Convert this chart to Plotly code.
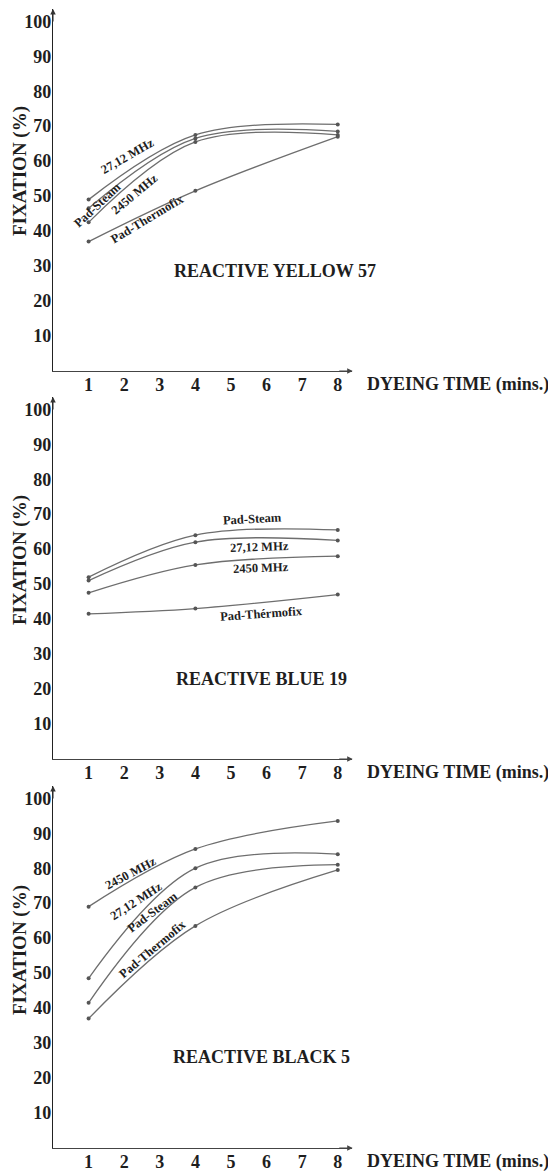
import plotly.graph_objects as go

# ---- data ----
dyeing_time = [1, 4, 8]
x_ticks = [1, 2, 3, 4, 5, 6, 7, 8]
y_ticks = [10, 20, 30, 40, 50, 60, 70, 80, 90, 100]

panel_titles = ["REACTIVE YELLOW 57", "REACTIVE BLUE 19", "REACTIVE BLACK 5"]

yellow_27 = [49, 67.5, 70.5]
yellow_steam = [46.5, 66.5, 68.5]
yellow_2450 = [42.5, 65.5, 67.5]
yellow_thermo = [37, 51.5, 67]

blue_steam = [52, 64, 65.5]
blue_27 = [51, 62, 62.5]
blue_2450 = [47.5, 55.5, 58]
blue_thermo = [41.5, 43, 47]

black_2450 = [69, 85.5, 93.5]
black_27 = [48.5, 80, 84]
black_steam = [41.5, 74.5, 81]
black_thermo = [37, 63.5, 79.5]

panels = [
    [("27,12 MHz", yellow_27), ("Pad-Steam", yellow_steam),
     ("2450 MHz", yellow_2450), ("Pad-Thermofix", yellow_thermo)],
    [("Pad-Steam", blue_steam), ("27,12 MHz", blue_27),
     ("2450 MHz", blue_2450), ("Pad-Thérmofix", blue_thermo)],
    [("2450 MHz", black_2450), ("27,12 MHz", black_27),
     ("Pad-Steam", black_steam), ("Pad-Thermofix", black_thermo)],
]

# curve label placement (x, y, angle) in data units
label_pos = [
    [(2.1, 61.5, -30), (1.25, 47.5, -43), (2.3, 50.5, -40), (2.65, 43.5, -31)],
    [(5.6, 68.5, -3), (5.8, 60.5, -2), (5.85, 54.5, -2), (5.85, 41.5, -4)],
    [(2.2, 78.5, -28), (2.35, 70.5, -33), (2.8, 67.5, -37), (2.8, 57, -40)],
]

# page body has an 8px margin: figure drawn at (8, 8)
W, H = 548, 1166
L, PW = 45, 299
YTOP = 103.5
PH = 362
bottoms = [363, 751, 1140]          # pixel row of y=0 in figure coords
ytitle_centers = [163, 552, 942]    # pixel rows of the y-axis titles

SERIF = "Liberation Serif"
LINE = "#6e6e6e"
TXT = "#1e1e1e"

fig = go.Figure()
for i, series in enumerate(panels):
    ax = "" if i == 0 else str(i + 1)
    for name, vals in series:
        fig.add_trace(go.Scatter(
            x=dyeing_time, y=vals, mode="lines+markers", name=name,
            line=dict(color=LINE, width=1.3, shape="spline", smoothing=1.0),
            marker=dict(size=4, color="#555555"),
            xaxis="x" + ax, yaxis="y" + ax, showlegend=False,
            cliponaxis=False,
        ))
    bot = bottoms[i]
    top = bot - PH
    dom = [1 - bot / H, 1 - top / H]
    common_x = dict(
        range=[0, 8.4], tickmode="array", tickvals=x_ticks,
        ticktext=[str(v) for v in x_ticks], showgrid=False, zeroline=False,
        showline=True, linecolor="#444444", linewidth=1.2, ticks="",
        ticklabelstandoff=-3,
        tickfont=dict(family=SERIF, size=18, color=TXT, weight="bold"),
        anchor="y" + ax, domain=[0, 1], automargin=False,
    )
    common_y = dict(
        range=[0, YTOP], tickmode="array", tickvals=y_ticks,
        ticktext=[str(v) for v in y_ticks], showgrid=False, zeroline=False,
        showline=True, linecolor="#222222", linewidth=1.2, ticks="",
        ticklabelstandoff=-3,
        tickfont=dict(family=SERIF, size=18, color=TXT, weight="bold"),
        anchor="x" + ax, domain=dom, automargin=False,
    )
    fig.update_layout(**{"xaxis" + ax: common_x, "yaxis" + ax: common_y})

    xr, yr = "x" + ax, "y" + ax
    # arrowheads on axes
    fig.add_annotation(x=8.42, y=0, ax=8.0, ay=0, xref=xr, yref=yr, axref=xr, ayref=yr,
                       showarrow=True, arrowhead=2, arrowsize=1, arrowwidth=1.1,
                       arrowcolor="#444444", text="")
    fig.add_annotation(x=0, y=YTOP, ax=0, ay=YTOP - 4, xref=xr, yref=yr, axref=xr, ayref=yr,
                       showarrow=True, arrowhead=2, arrowsize=1, arrowwidth=1.1,
                       arrowcolor="#333333", text="")
    # y axis title
    fig.add_annotation(x=(12 - L) / PW, y=1 - ytitle_centers[i] / H, xref="paper", yref="paper",
                       text="FIXATION (%)", textangle=-90, showarrow=False,
                       xanchor="center", yanchor="middle", borderpad=0,
                       font=dict(family=SERIF, size=19, color=TXT, weight="bold"))
    # x axis title (outside the plotting range, so use domain reference)
    fig.add_annotation(x=(357 - L) / PW, y=0, xref=xr + " domain", yref=yr + " domain",
                       xanchor="left", yanchor="top", yshift=-1,
                       text="DYEING TIME (mins.)", showarrow=False,
                       font=dict(family=SERIF, size=18, color=TXT, weight="bold"))
    # panel title
    fig.add_annotation(x=[6.25, 5.85, 5.85][i], y=[28.5, 23, 26][i], xref=xr, yref=yr,
                       text=panel_titles[i], showarrow=False,
                       font=dict(family=SERIF, size=18, color=TXT, weight="bold"))
    # curve labels
    for (name, _), (lx, ly, ang) in zip(series, label_pos[i]):
        fig.add_annotation(x=lx, y=ly, xref=xr, yref=yr, text=name, showarrow=False,
                           textangle=ang,
                           font=dict(family=SERIF, size=12.5, color=TXT, weight="bold"))

fig.update_layout(
    width=W, height=H, margin=dict(l=L, r=W - L - PW, t=0, b=0, autoexpand=False),
    paper_bgcolor="white", plot_bgcolor="white",
)

fig.write_html("out.html")
